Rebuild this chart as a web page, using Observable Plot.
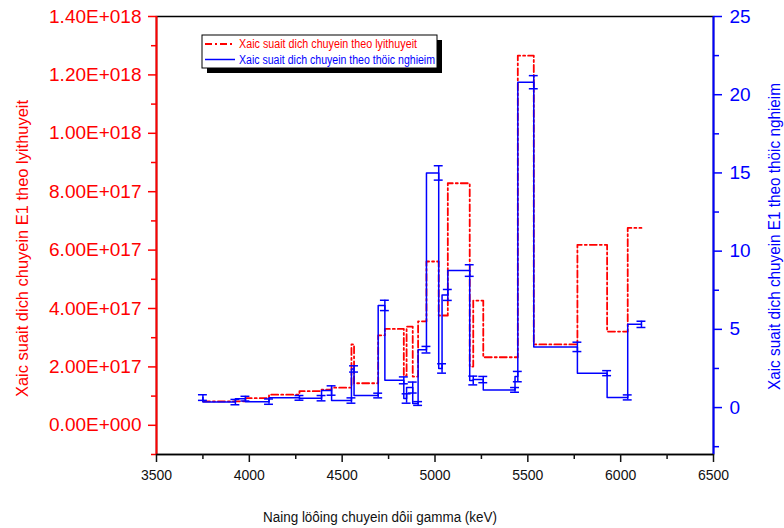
<!DOCTYPE html>
<html><head><meta charset="utf-8">
<script src="https://cdn.jsdelivr.net/npm/d3@7"></script>
<script src="https://cdn.jsdelivr.net/npm/@observablehq/plot@0.6"></script>
<style>
html,body{margin:0;padding:0;background:#fff;}
#wrap{position:relative;width:784px;height:528px;font-family:"Liberation Sans",Arial,sans-serif;}
#overlay{position:absolute;left:0;top:0;pointer-events:none;}
</style></head><body><div id="wrap"></div>
<script>
// Gamma transition energies (keV)
const energy = [3750,3925,3979,4106,4270,4389,4443,4550,4564,4694,4730,4832,4847,4880,4909,4954,5020,5038,5069,5187,5206,5260,5431,5446,5532,5767,5927,6038,6112];
// Theoretical E1 transition probability (left axis)
const theory = [0.82e17,0.82e17,0.82e17,0.93e17,1.05e17,1.17e17,1.22e17,1.29e17,2.77e17,1.44e17,3.08e17,3.30e17,1.70e17,3.38e17,1.67e17,3.56e17,5.61e17,3.76e17,3.76e17,8.29e17,2.01e17,4.27e17,2.33e17,2.33e17,12.66e17,2.77e17,6.18e17,3.21e17,6.76e17];
// Experimental E1 transition probability (right axis) and its error
const experiment = [0.64,0.35,0.57,0.38,0.62,0.60,1.09,0.45,2.47,0.77,6.53,1.74,0.58,1.28,0.26,3.70,15.0,2.50,7.20,8.76,1.73,1.79,1.13,1.98,20.8,3.88,2.20,0.65,5.32];
const expError = [0.18,0.17,0.15,0.17,0.15,0.17,0.30,0.17,0.20,0.15,0.33,0.22,0.30,0.35,0.12,0.21,0.46,0.30,0.35,0.37,0.28,0.20,0.15,0.33,0.42,0.30,0.16,0.16,0.20];

const leftDomain = [-1e17, 1.4e18];
const rightDomain = [-3, 25];
const leftTicks = [0,2e17,4e17,6e17,8e17,1e18,1.2e18,1.4e18];
const leftMinor = [-1e17,1e17,3e17,5e17,7e17,9e17,1.1e18,1.3e18];
const rightTicks = [0,5,10,15,20,25];
const rightMinor = [-2.5,2.5,7.5,12.5,17.5,22.5];
const xTicks = [3500,4000,4500,5000,5500,6000,6500];
const xMinor = [3750,4250,4750,5250,5750,6250];

const legendLabels = ["Xaic suait dich chuyein theo lyithuyeit","Xaic suait dich chuyein theo thöic nghieim"];
const xTitle = "Naing löôing chuyein dôii gamma (keV)";
const leftTitle = "Xaic suait dich chuyein E1 theo lyithuyeit";
const rightTitle = "Xaic suait dich chuyein E1 theo thöic nghieim";

const toY = v => leftDomain[0] + (v - rightDomain[0]) / (rightDomain[1]-rightDomain[0]) * (leftDomain[1]-leftDomain[0]);
const fromY = y => rightDomain[0] + (y - leftDomain[0]) / (leftDomain[1]-leftDomain[0]) * (rightDomain[1]-rightDomain[0]);
const formatE = v => {
  if (Math.abs(v) < 1) return "0.00E+000";
  const e = Math.floor(Math.log10(Math.abs(v)) + 1e-9);
  const m = v / Math.pow(10, e);
  return m.toFixed(2) + "E" + (e < 0 ? "-" : "+") + String(Math.abs(e)).padStart(3, "0");
};
const capHalf = 24;
const idx = d3.range(energy.length);
const RED = "#ff0000", BLUE = "#0000ff";

const chart = Plot.plot({
  width: 784, height: 528,
  marginLeft: 156, marginRight: 71, marginTop: 16, marginBottom: 74,
  style: {fontFamily: "Liberation Sans, Arial, sans-serif", background: "#fff", overflow: "visible"},
  x: {domain: [3500, 6500]},
  y: {domain: leftDomain},
  marks: [
    Plot.frame({stroke: "black", strokeWidth: 1.5}),
    Plot.line(idx, {x: i => energy[i], y: i => theory[i], curve: "step-before", stroke: RED, strokeWidth: 1.8, strokeDasharray: "7,3,2,3"}),
    Plot.line(idx, {x: i => energy[i], y: i => toY(experiment[i]), curve: "step-before", stroke: BLUE, strokeWidth: 1.5}),
    Plot.ruleX(idx, {x: i => energy[i], y1: i => toY(experiment[i]-expError[i]), y2: i => toY(experiment[i]+expError[i]), stroke: BLUE, strokeWidth: 1.5}),
    Plot.ruleY(idx, {y: i => toY(experiment[i]+expError[i]), x1: i => energy[i]-capHalf, x2: i => energy[i]+capHalf, stroke: BLUE, strokeWidth: 1.5}),
    Plot.ruleY(idx, {y: i => toY(experiment[i]-expError[i]), x1: i => energy[i]-capHalf, x2: i => energy[i]+capHalf, stroke: BLUE, strokeWidth: 1.5}),
    Plot.ruleX([3500], {stroke: RED, strokeWidth: 2}),
    Plot.ruleX([6500], {stroke: BLUE, strokeWidth: 2}),
    Plot.ruleY([leftDomain[0]], {stroke: "black", strokeWidth: 1.5}),
    Plot.axisY({anchor: "left", ticks: leftTicks, tickFormat: formatE, tickSize: 8, tickPadding: 7, color: RED, fontSize: 19, strokeWidth: 1.5, label: null}),
    Plot.axisY({anchor: "left", ticks: leftMinor, tickFormat: () => "", tickSize: 5, color: RED, strokeWidth: 1.5, label: null}),
    Plot.axisY({anchor: "right", ticks: rightTicks.map(toY), tickFormat: d => String(Math.round(fromY(d))), tickSize: 8, tickPadding: 8, color: BLUE, fontSize: 19, strokeWidth: 1.5, label: null}),
    Plot.axisY({anchor: "right", ticks: rightMinor.map(toY), tickFormat: () => "", tickSize: 5, color: BLUE, strokeWidth: 1.5, label: null}),
    Plot.axisX({anchor: "bottom", ticks: xTicks, tickFormat: d => String(d), tickSize: 8, tickPadding: 8, color: "#111", fontSize: 14, strokeWidth: 1.5, label: null}),
    Plot.axisX({anchor: "bottom", ticks: xMinor, tickFormat: () => "", tickSize: 5, color: "#111", strokeWidth: 1.5, label: null})
  ]
});
const wrap = document.getElementById("wrap");
wrap.appendChild(chart);

const ns = "http://www.w3.org/2000/svg";
const ov = document.createElementNS(ns, "svg");
ov.setAttribute("id", "overlay");
ov.setAttribute("width", 784); ov.setAttribute("height", 528);
ov.style.fontFamily = "Liberation Sans, Arial, sans-serif";
function el(tag, attrs, text) {
  const e = document.createElementNS(ns, tag);
  for (const k in attrs) e.setAttribute(k, attrs[k]);
  if (text != null) e.textContent = text;
  ov.appendChild(e);
  return e;
}
// legend
el("rect", {x: 207, y: 40, width: 235, height: 33, fill: "#000"});
el("rect", {x: 202, y: 35, width: 235, height: 33, fill: "#fff", stroke: "#000", "stroke-width": 1});
el("line", {x1: 205, x2: 235, y1: 44, y2: 44, stroke: RED, "stroke-width": 1.8, "stroke-dasharray": "7,3,2,3"});
el("text", {x: 239, y: 48, fill: RED, "font-size": 12, textLength: 178, lengthAdjust: "spacingAndGlyphs"}, legendLabels[0]);
el("line", {x1: 205, x2: 235, y1: 59.5, y2: 59.5, stroke: BLUE, "stroke-width": 1.5});
el("text", {x: 239, y: 63.5, fill: BLUE, "font-size": 12, textLength: 196, lengthAdjust: "spacingAndGlyphs"}, legendLabels[1]);
// axis titles
el("text", {x: 380, y: 522, fill: "#111", "font-size": 14, "text-anchor": "middle", textLength: 234, lengthAdjust: "spacingAndGlyphs"}, xTitle);
el("text", {transform: "translate(28,248.5) rotate(-90)", fill: RED, "font-size": 17, "text-anchor": "middle", textLength: 297, lengthAdjust: "spacingAndGlyphs"}, leftTitle);
el("text", {transform: "translate(780,236.5) rotate(-90)", fill: BLUE, "font-size": 17, "text-anchor": "middle", textLength: 307, lengthAdjust: "spacingAndGlyphs"}, rightTitle);
wrap.appendChild(ov);
</script></body></html>
